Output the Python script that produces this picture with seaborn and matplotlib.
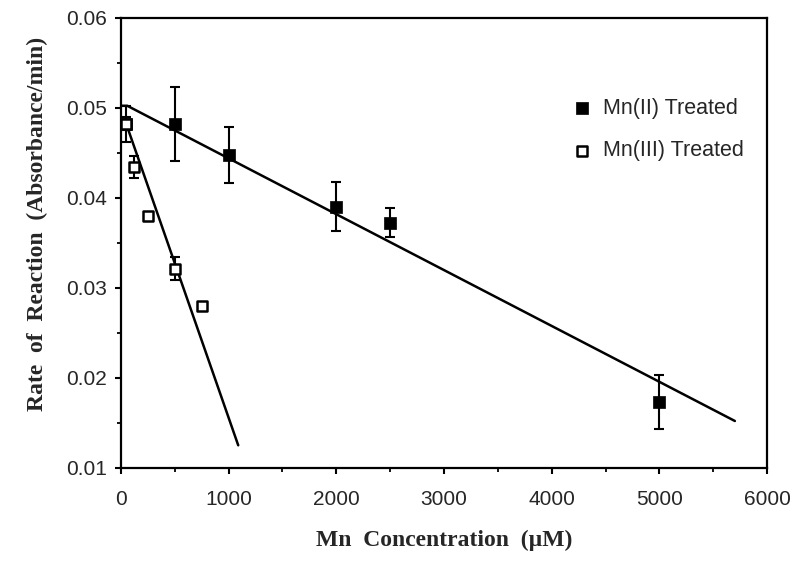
import matplotlib
matplotlib.use("Agg")
import matplotlib.pyplot as plt
import seaborn as sns
import numpy as np
import pandas as pd

# Data
mn2_conc = [50, 500, 1000, 2000, 2500, 5000]
mn2_rate = [0.0482, 0.0482, 0.0447, 0.0390, 0.0372, 0.0173]
mn2_err = [0.0007, 0.0041, 0.0031, 0.0027, 0.0016, 0.0030]

mn3_conc = [50, 125, 250, 500, 750]
mn3_rate = [0.0482, 0.0434, 0.0380, 0.0321, 0.0280]
mn3_err = [0.0020, 0.0012, 0.0000, 0.0013, 0.0000]

# Drawn trend lines
mn2_line_x = [0, 60, 5700]
mn2_line_y = [0.0502, 0.0502, 0.0152]
mn3_line_x = [50, 1090]
mn3_line_y = [0.0482, 0.0125]

xticks = [0, 1000, 2000, 3000, 4000, 5000, 6000]
yticks = [0.01, 0.02, 0.03, 0.04, 0.05, 0.06]

sns.set_style("ticks")
plt.rcParams['font.family'] = ['Liberation Sans', 'DejaVu Sans']

fig = plt.figure(figsize=(8.0, 5.65), dpi=100)
ax = fig.add_axes([0.151, 0.172, 0.808, 0.797])

sns.lineplot(x=mn2_line_x, y=mn2_line_y, ax=ax, color='black', lw=1.8, legend=False)
sns.lineplot(x=mn3_line_x, y=mn3_line_y, ax=ax, color='black', lw=1.8, legend=False)

ax.errorbar(mn2_conc, mn2_rate, yerr=mn2_err, fmt='none', ecolor='black',
            elinewidth=1.5, capsize=3.5, capthick=1.5, zorder=3)
ax.errorbar(mn3_conc, mn3_rate, yerr=mn3_err, fmt='none', ecolor='black',
            elinewidth=1.5, capsize=3.5, capthick=1.5, zorder=3)

df2 = pd.DataFrame({'x': mn2_conc, 'y': mn2_rate})
df3 = pd.DataFrame({'x': mn3_conc, 'y': mn3_rate})
sns.scatterplot(data=df2, x='x', y='y', ax=ax, marker='s', s=85, color='black',
                edgecolor='black', linewidth=0.5, zorder=4, label='Mn(II) Treated')
sns.scatterplot(data=df3, x='x', y='y', ax=ax, marker='s', s=55, facecolor='white',
                edgecolor='black', linewidth=1.8, zorder=5, label='Mn(III) Treated')

ax.set_xlim(0, 6000)
ax.set_ylim(0.01, 0.06)
ax.set_xticks(xticks)
ax.set_yticks(yticks)
ax.set_xticklabels([str(t) for t in xticks], fontsize=15)
ax.set_yticklabels([f"{t:.2f}" for t in yticks], fontsize=15)
ax.set_xticks(np.arange(500, 6000, 1000), minor=True)
ax.set_yticks([0.015, 0.025, 0.035, 0.045, 0.055], minor=True)
ax.tick_params(which='major', direction='out', length=4, width=1.5, color='black')
ax.tick_params(which='minor', direction='out', length=3, width=1.3, color='black')
ax.tick_params(axis='x', which='major', pad=12)
ax.tick_params(axis='y', which='major', pad=6)
for s in ax.spines.values():
    s.set_linewidth(1.6)
    s.set_color('black')
    s.set_visible(True)

ax.set_xlabel("Mn  Concentration  (µM)", fontfamily='Liberation Serif',
              fontweight='bold', fontsize=17)
ax.set_ylabel("Rate  of  Reaction  (Absorbance/min)", fontfamily='Liberation Serif',
              fontweight='bold', fontsize=17)
ax.xaxis.set_label_coords(0.5, -0.138)
ax.yaxis.set_label_coords(-0.112, 0.541)

ax.legend(loc='upper left', bbox_to_anchor=(0.667, 0.865), frameon=False,
          fontsize=15.5, handlelength=1.0, handletextpad=0.45, labelspacing=1.0,
          markerscale=1.0)

fig.savefig("out.png", dpi=100)
